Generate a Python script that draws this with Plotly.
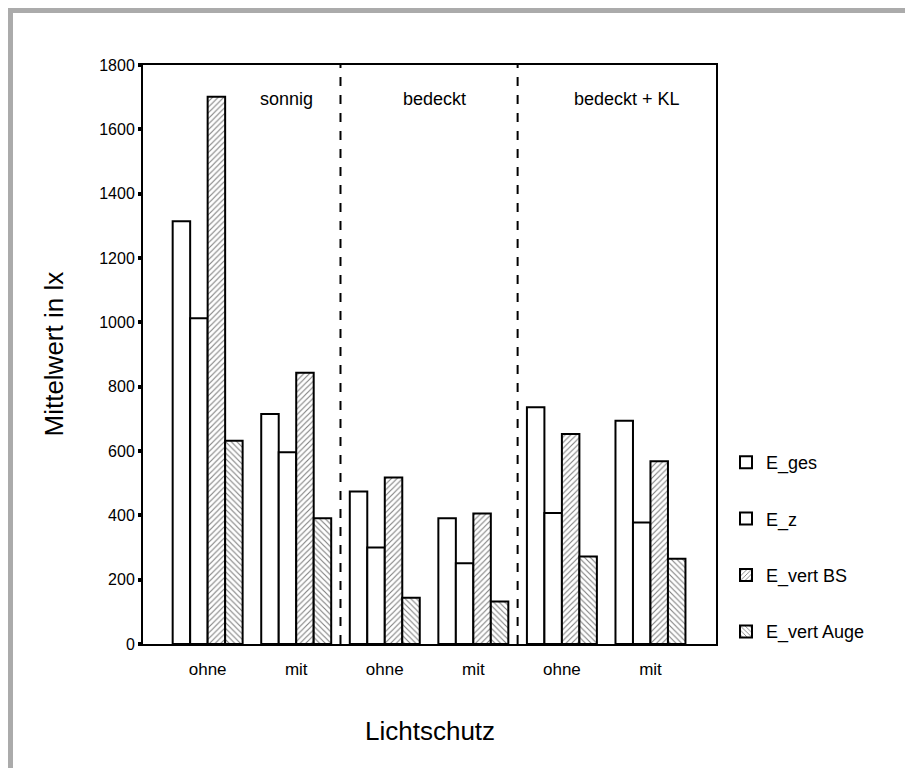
import plotly.graph_objects as go

# ---- data ----
categories = ["ohne", "mit", "ohne", "mit", "ohne", "mit"]
groups = ["sonnig", "bedeckt", "bedeckt + KL"]
series_names = ["E_ges", "E_z", "E_vert BS", "E_vert Auge"]
e_ges = [1314, 715, 474, 391, 736, 694]
e_z = [1013, 596, 300, 251, 407, 378]
e_vert_bs = [1701, 843, 518, 406, 653, 568]
e_vert_auge = [632, 391, 144, 132, 272, 265]
y_ticks = [0, 200, 400, 600, 800, 1000, 1200, 1400, 1600, 1800]

FONT = "Liberation Sans, Arial, sans-serif"
W, H = 905, 760
L, R, T, B = 135, 197, 57, 124
PW, PH = W - L - R, H - T - B

x_pos = list(range(len(categories)))
series_values = [e_ges, e_z, e_vert_bs, e_vert_auge]
patterns = ["", "", "/", "\\"]

fig = go.Figure()
for name, vals, pat in zip(series_names, series_values, patterns):
    fig.add_trace(go.Bar(
        x=x_pos, y=vals, name=name, legendgroup=name,
        marker=dict(color="white", line=dict(color="black", width=2),
                    pattern=dict(shape=pat, fgcolor="black", bgcolor="white",
                                 size=4, solidity=0.28)),
    ))

# section separators
for xs in [1.5, 3.5]:
    fig.add_shape(type="line", xref="x", yref="y", x0=xs, x1=xs, y0=0, y1=1800,
                  line=dict(color="black", width=2, dash="dash"))

# section labels
group_x = [0.885, 2.56, 4.73]
for g, gx in zip(groups, group_x):
    fig.add_annotation(x=gx, y=1694, xref="x", yref="y", text=g, showarrow=False,
                       font=dict(family=FONT, size=18, color="black"))


def px_x(px):
    return (px - L) / PW


def px_y(py):
    return 1 - (py - T) / PH


# axis titles
fig.add_annotation(x=px_x(45), y=0.5, xref="paper", yref="paper",
                   text="Mittelwert in lx", textangle=-90, showarrow=False,
                   xanchor="center", yanchor="middle",
                   font=dict(family=FONT, size=26, color="black"))
fig.add_annotation(x=px_x((L + L + PW) / 2), y=px_y(723), xref="paper", yref="paper",
                   text="Lichtschutz", showarrow=False,
                   xanchor="center", yanchor="middle",
                   font=dict(family=FONT, size=26, color="black"))

# gray frame (top and left edges of the surrounding picture)
fig.add_shape(type="rect", xref="paper", yref="paper",
              x0=px_x(0), x1=px_x(W), y0=px_y(5), y1=px_y(0),
              fillcolor="#ababab", line=dict(width=0), layer="below")
fig.add_shape(type="rect", xref="paper", yref="paper",
              x0=px_x(0), x1=px_x(5), y0=px_y(H), y1=px_y(0),
              fillcolor="#ababab", line=dict(width=0), layer="below")

fig.update_layout(
    width=W, height=H,
    margin=dict(l=L, r=R, t=T, b=B, autoexpand=False),
    paper_bgcolor="white", plot_bgcolor="white",
    barmode="group", bargap=0.21, bargroupgap=0,
    font=dict(family=FONT, color="black"),
    showlegend=True,
    legend=dict(x=px_x(718), y=px_y(436), xanchor="left", yanchor="top",
                font=dict(family=FONT, size=18), tracegroupgap=30,
                traceorder="grouped", bgcolor="rgba(0,0,0,0)"),
)
fig.update_xaxes(
    range=[-0.73, 5.74], tickmode="array", tickvals=x_pos, ticktext=categories,
    showline=True, linecolor="black", linewidth=2, mirror=True,
    ticks="", ticklabelstandoff=9, showgrid=False, zeroline=False,
    tickfont=dict(family=FONT, size=17),
)
fig.update_yaxes(
    range=[0, 1800], tickmode="array", tickvals=y_ticks,
    showline=True, linecolor="black", linewidth=2, mirror=True,
    ticks="outside", ticklen=3, tickwidth=4, tickcolor="black",
    showgrid=False, zeroline=False,
    tickfont=dict(family=FONT, size=16),
)

fig.write_html("out.html")
